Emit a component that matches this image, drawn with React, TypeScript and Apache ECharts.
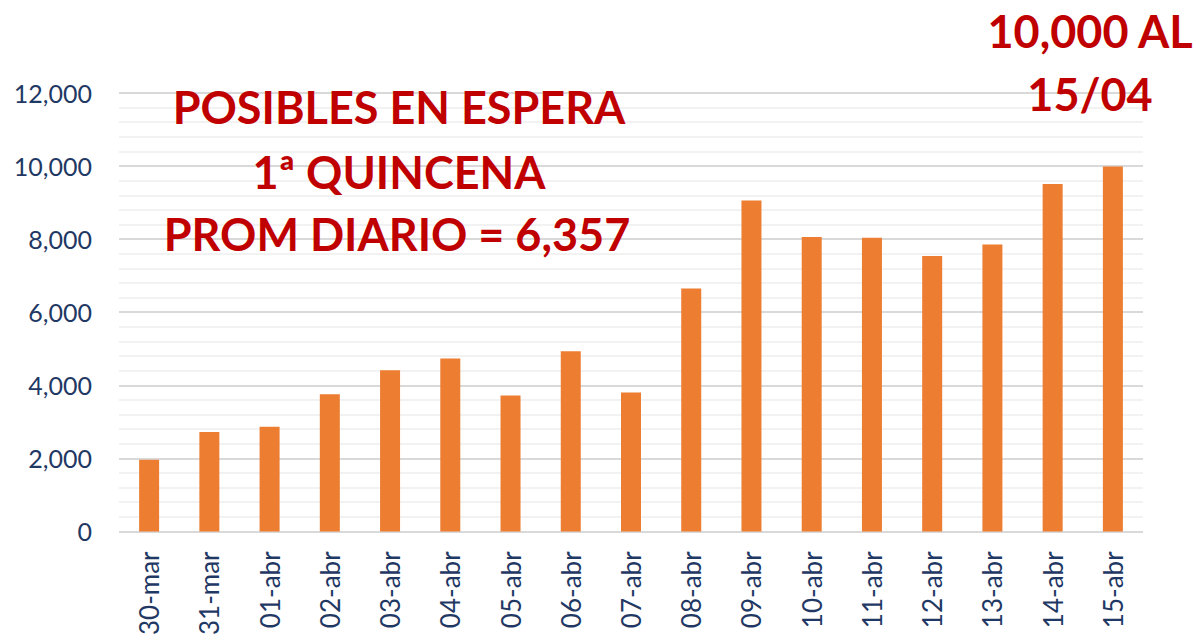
import React, { useEffect, useRef } from "react";
import * as echarts from "echarts";

const categories = [
  "30-mar", "31-mar", "01-abr", "02-abr", "03-abr", "04-abr", "05-abr", "06-abr", "07-abr",
  "08-abr", "09-abr", "10-abr", "11-abr", "12-abr", "13-abr", "14-abr", "15-abr",
];
const values = [
  1960, 2720, 2865, 3755, 4410, 4730, 3720, 4930, 3800,
  6650, 9060, 8060, 8040, 7540, 7850, 9510, 9990,
];
const titleLines = ["POSIBLES EN ESPERA", "1ª QUINCENA", "PROM DIARIO = 6,357"];
const noteLines = ["10,000 AL", "15/04"];

const RED = "#C00000";
const NAVY = "#1F3864";
const FONT = "Lato, 'Noto Sans', sans-serif";

export default function App() {
  const ref = useRef<HTMLDivElement>(null);
  useEffect(() => {
    if (!ref.current) return;
    const chart = echarts.init(ref.current, undefined, { renderer: "svg" });
    const textEl = (text: string, x: number, y: number) => ({
      type: "text",
      x,
      y,
      style: {
        text,
        fill: RED,
        fontFamily: FONT,
        fontWeight: "bold",
        fontSize: 45,
        align: "center",
        verticalAlign: "middle",
      },
      z: 100,
    });
    chart.setOption({
      animation: false,
      backgroundColor: "#ffffff",
      grid: { left: 119, right: 61, top: 93, bottom: 106, containLabel: false },
      xAxis: {
        type: "category",
        data: categories,
        axisLine: { show: false },
        axisTick: { show: false },
        axisLabel: {
          rotate: 90,
          color: NAVY,
          fontSize: 26,
          fontFamily: FONT,
          margin: 20,
          interval: 0,
        },
      },
      yAxis: {
        type: "value",
        min: 0,
        max: 12000,
        interval: 2000,
        axisLine: { show: false },
        axisTick: { show: false },
        axisLabel: {
          color: NAVY,
          fontSize: 25,
          fontFamily: FONT,
          margin: 27,
          formatter: (v: number) => v.toLocaleString("en-US"),
        },
        splitLine: { show: true, lineStyle: { color: "#D9D9D9", width: 2 } },
        minorTick: { show: false, splitNumber: 5 },
        minorSplitLine: { show: true, lineStyle: { color: "#F2F2F2", width: 2 } },
      },
      series: [
        {
          type: "bar",
          data: values,
          barWidth: 20,
          itemStyle: { color: "#ED7D31" },
        },
      ],
      graphic: [
        textEl(titleLines[0], 399, 107),
        textEl(titleLines[1], 399, 172),
        textEl(titleLines[2], 397, 234),
        textEl(noteLines[0], 1090, 31),
        textEl(noteLines[1], 1090, 94),
      ],
    });
    return () => chart.dispose();
  }, []);
  return (
    <div
      ref={ref}
      style={{ position: "fixed", left: 0, top: 0, width: 1204, height: 638 }}
    />
  );
}
